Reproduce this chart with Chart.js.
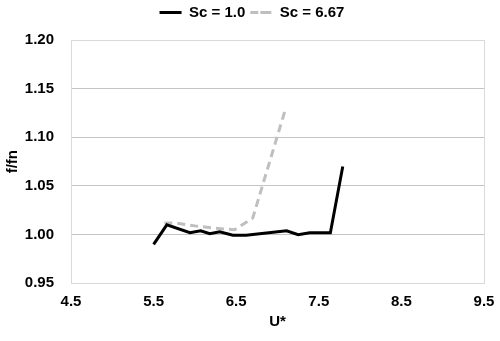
<!DOCTYPE html>
<html>
<head>
  <meta charset="UTF-8" />
  <title>f/fn vs U*</title>
  <script src="https://cdn.jsdelivr.net/npm/chart.js"></script>
  <style>
    html, body {
      margin: 0;
      padding: 0;
      background: #fff;
    }

    #wrap {
      width: 500px;
      height: 341px;
    }
  </style>
</head>
<body>
  <div id="wrap"><canvas id="chart"></canvas></div>

  <script>
    // Sc = 1.0 (black solid)
    const sc1U = [5.5, 5.66, 5.94, 6.07, 6.18, 6.3, 6.46, 6.62, 7.11, 7.25, 7.39, 7.64, 7.79];
    const sc1F = [0.99, 1.010, 1.002, 1.004, 1.001, 1.003, 0.9995, 0.9995, 1.004, 1.0, 1.002, 1.002, 1.07];

    // Sc = 6.67 (grey dashed)
    const sc2U = [5.63, 5.77, 6.0, 6.2, 6.48, 6.7, 7.1];
    const sc2F = [1.012, 1.012, 1.009, 1.007, 1.005, 1.017, 1.13];

    const seriesLabels = ['Sc = 1.0', 'Sc = 6.67'];
    const xTitle = 'U*';
    const yTitle = 'f/fn';

    const toPoints = (xs, ys) => xs.map((x, i) => ({ x: x, y: ys[i] }));

    const boldFont = { family: "'Liberation Sans', Arial, sans-serif", size: 15, weight: 'bold' };

    // fixed legend height so the plot starts where the original does,
    // and nudge the legend a bit right (it is centred on the whole picture there)
    const legendTweak = {
      id: 'legendTweak',
      beforeInit(chart) {
        const origFit = chart.legend.fit;
        chart.legend.fit = function () {
          origFit.call(this);
          this.height = 40;
        };
      },
      afterLayout(chart) {
        chart.legend.left += 10;
        chart.legend.right += 10;
      }
    };

    new Chart(document.getElementById('chart').getContext('2d'), {
      type: 'line',
      data: {
        datasets: [{
          label: seriesLabels[0],
          data: toPoints(sc1U, sc1F),
          borderColor: '#000000',
          backgroundColor: '#000000',
          borderWidth: 3,
          pointRadius: 0,
          tension: 0
        }, {
          label: seriesLabels[1],
          data: toPoints(sc2U, sc2F),
          borderColor: '#bfbfbf',
          backgroundColor: '#bfbfbf',
          borderWidth: 3,
          borderDash: [8, 5],
          pointRadius: 0,
          tension: 0
        }]
      },
      plugins: [legendTweak],
      options: {
        responsive: true,
        maintainAspectRatio: false,
        animation: false,
        layout: {
          padding: { left: 0, right: 16, top: 0, bottom: 0 }
        },
        plugins: {
          legend: {
            position: 'top',
            labels: {
              color: '#000000',
              font: boldFont,
              boxWidth: 22,
              boxHeight: 0,
              padding: 5
            }
          },
          tooltip: { enabled: false }
        },
        scales: {
          x: {
            type: 'linear',
            min: 4.5,
            max: 9.5,
            afterFit: s => {
              s.height = 57.7;
              s.paddingLeft = 0;
              s.paddingRight = 0;
            },
            ticks: {
              stepSize: 1,
              color: '#000000',
              font: boldFont,
              padding: 10,
              callback: v => v.toFixed(1)
            },
            grid: {
              drawTicks: false,
              color: c => (c.index === 5 ? '#d9d9d9' : 'rgba(0,0,0,0)')
            },
            border: { color: '#d9d9d9', width: 1 },
            title: {
              display: true,
              text: xTitle,
              color: '#000000',
              font: boldFont,
              padding: { top: 0, bottom: 10 }
            }
          },
          y: {
            min: 0.95,
            max: 1.2,
            afterFit: s => { s.width = 71; },
            ticks: {
              stepSize: 0.05,
              color: '#000000',
              font: boldFont,
              padding: 17,
              callback: v => v.toFixed(2)
            },
            grid: {
              drawTicks: false,
              color: c => (c.index === 5 || c.index === 0 ? '#d9d9d9' : '#c4c4c4')
            },
            border: { color: '#d9d9d9', width: 1 },
            title: {
              display: true,
              text: yTitle,
              color: '#000000',
              font: boldFont,
              padding: { top: 4, bottom: 4 }
            }
          }
        }
      }
    });
  </script>
</body>
</html>
